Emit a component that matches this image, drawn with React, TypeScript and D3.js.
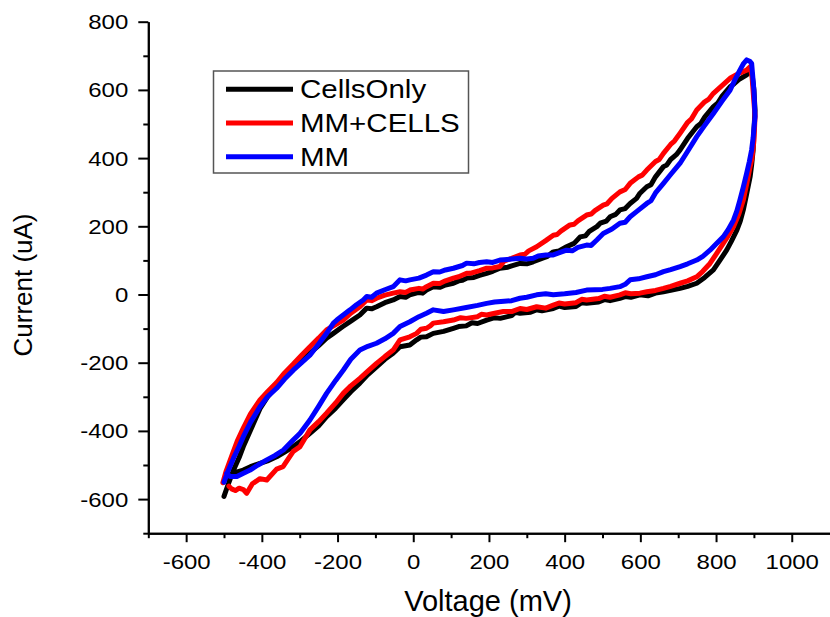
import React, { useEffect, useRef } from 'react';
import * as d3 from 'd3';

// voltage (mV), current (uA)
const cellsOnlyFwd: [number, number][] = [
  [-500, -592], [-490, -560], [-475, -515], [-460, -478], [-449, -446], [-430, -398],
  [-405, -335], [-385, -300], [-361, -268], [-340, -244], [-318, -220], [-295, -195],
  [-273, -172], [-250, -150], [-229, -128], [-211, -114], [-186, -94], [-165, -78],
  [-141, -60], [-123, -40], [-110, -42], [-97, -36], [-75, -24], [-53, -16], [-35, -6],
  [-20, -8], [-9, -1], [15, 6], [25, 4], [35, 13], [53, 23], [70, 21], [85, 28],
  [106, 33], [120, 40], [130, 42], [141, 48], [160, 50], [175, 56], [194, 62],
  [210, 68], [229, 77], [250, 80], [260, 84], [282, 91], [300, 90], [317, 96],
  [340, 106], [353, 111], [370, 125], [385, 128], [405, 140], [425, 150], [441, 169],
  [455, 172], [465, 185], [485, 199], [494, 209], [510, 215], [520, 228], [535, 235],
  [546, 248], [560, 252], [573, 267], [590, 282], [599, 297], [617, 316], [628, 322],
  [640, 345], [661, 375], [670, 380], [680, 396], [695, 410], [705, 424], [725, 458],
  [749, 492], [760, 502], [770, 520], [793, 551], [805, 562], [815, 580], [837, 609],
  [848, 618], [860, 630], [881, 644], [888, 655], [895, 648],
];
const cellsOnlyRev: [number, number][] = [
  [900, 600], [903, 541], [900, 480], [898, 424], [894, 380], [890, 345], [880, 290],
  [872, 248], [864, 215], [855, 189], [840, 155], [828, 130], [810, 100], [793, 72],
  [770, 50], [749, 33], [725, 24], [705, 18], [680, 12], [661, 8], [640, 4], [620, -4],
  [599, -1], [575, -8], [560, -6], [546, -11], [520, -18], [505, -15], [490, -22],
  [458, -26], [445, -24], [430, -35], [400, -38], [385, -34], [370, -41], [340, -48],
  [325, -45], [310, -52], [282, -55], [270, -52], [260, -62], [230, -70], [215, -68],
  [194, -75], [170, -85], [155, -83], [140, -92], [120, -94], [106, -99], [80, -108],
  [53, -114], [35, -124], [20, -125], [9, -133], [-9, -148], [-35, -153], [-53, -172],
  [-75, -190], [-97, -212], [-120, -235], [-141, -260], [-165, -285], [-185, -309],
  [-205, -333], [-229, -358], [-250, -385], [-273, -407], [-295, -428], [-317, -446],
  [-340, -462], [-361, -476], [-385, -488], [-405, -495], [-430, -505], [-449, -515],
  [-465, -520], [-475, -524], [-485, -535], [-495, -540],
];

const mmCellsFwd: [number, number][] = [
  [-503, -552], [-495, -520], [-480, -475], [-465, -430], [-449, -392], [-430, -350],
  [-405, -309], [-385, -285], [-361, -258], [-340, -230], [-317, -204], [-295, -178],
  [-273, -153], [-250, -128], [-229, -104], [-205, -88], [-185, -75], [-165, -55],
  [-141, -36], [-123, -16], [-110, -18], [-97, -11], [-75, -2], [-53, 4], [-35, 8],
  [-20, 6], [-9, 13], [15, 18], [25, 16], [35, 23], [53, 33], [70, 32], [85, 40],
  [106, 48], [120, 52], [141, 62], [150, 62], [175, 70], [194, 77], [210, 78],
  [229, 82], [240, 98], [260, 106], [282, 116], [295, 118], [305, 128], [326, 140],
  [350, 158], [370, 174], [380, 176], [390, 186], [414, 204], [425, 206], [435, 216],
  [458, 233], [470, 236], [480, 246], [502, 262], [512, 266], [525, 282], [546, 301],
  [560, 308], [573, 326], [595, 345], [605, 350], [617, 365], [640, 390], [650, 396],
  [661, 414], [680, 440], [690, 450], [705, 473], [725, 505], [735, 515], [749, 541],
  [770, 565], [780, 572], [793, 590], [815, 612], [837, 634], [860, 648], [881, 658],
  [890, 668], [895, 640],
];
const mmCellsRev: [number, number][] = [
  [903, 522], [900, 450], [895, 400], [890, 375], [882, 330], [872, 277], [860, 235],
  [846, 199], [832, 172], [819, 150], [800, 118], [784, 91], [765, 68], [749, 52],
  [725, 40], [705, 33], [680, 24], [661, 18], [640, 12], [617, 8], [599, 4], [575, 2],
  [560, 5], [546, -1], [520, -8], [505, -5], [490, -12], [458, -16], [445, -14],
  [430, -24], [400, -28], [385, -25], [370, -31], [350, -40], [326, -36], [300, -44],
  [282, -41], [260, -50], [238, -50], [215, -55], [194, -60], [180, -58], [170, -65],
  [140, -70], [125, -68], [106, -75], [80, -80], [53, -84], [45, -92], [35, -99],
  [20, -102], [9, -114], [-9, -124], [-35, -133], [-53, -163], [-75, -182], [-97, -202],
  [-120, -225], [-141, -246], [-165, -268], [-185, -290], [-205, -318], [-229, -348],
  [-250, -373], [-273, -397], [-299, -446], [-317, -460], [-344, -505], [-361, -512],
  [-387, -544], [-405, -540], [-425, -555], [-440, -583], [-449, -572], [-460, -568],
  [-470, -575], [-480, -570], [-487, -562],
];

const mmFwd: [number, number][] = [
  [-500, -550], [-490, -520], [-475, -480], [-460, -445], [-449, -417], [-430, -375],
  [-405, -329], [-385, -300], [-361, -275], [-340, -248], [-317, -222], [-295, -200],
  [-273, -178], [-250, -145], [-229, -114], [-211, -84], [-202, -75], [-185, -60],
  [-167, -45], [-150, -30], [-132, -16], [-123, -6], [-110, -8], [-97, 4], [-75, 14],
  [-53, 23], [-35, 43], [-20, 40], [-9, 43], [15, 48], [35, 57], [53, 67], [70, 66],
  [85, 72], [106, 77], [130, 85], [141, 92], [160, 90], [175, 94], [194, 96],
  [210, 94], [229, 101], [240, 102], [260, 104], [282, 106], [300, 104], [317, 106],
  [330, 113], [350, 116], [370, 116], [390, 124], [405, 130], [420, 128], [435, 138],
  [458, 145], [470, 144], [485, 160], [502, 179], [525, 192], [546, 209], [560, 212],
  [573, 228], [590, 243], [617, 267], [628, 275], [640, 298], [661, 326], [680, 352],
  [705, 385], [725, 420], [749, 463], [770, 496], [793, 531], [815, 566], [837, 599],
  [850, 630], [863, 658], [873, 678], [881, 688], [890, 683], [894, 678],
];
const mmRev: [number, number][] = [
  [900, 600], [903, 522], [898, 460], [894, 424], [888, 390], [881, 356], [872, 315],
  [863, 277], [855, 245], [846, 218], [832, 190], [819, 169], [800, 148], [784, 130],
  [765, 112], [749, 101], [725, 90], [705, 82], [680, 73], [661, 67], [640, 58],
  [617, 52], [595, 46], [573, 43], [560, 30], [546, 23], [520, 18], [500, 15],
  [480, 14], [458, 13], [430, 6], [400, 2], [370, -1], [350, 2], [326, -1], [300, -8],
  [282, -11], [260, -18], [240, -20], [215, -22], [194, -26], [170, -32], [140, -38],
  [106, -45], [80, -50], [53, -45], [35, -55], [15, -65], [-9, -80], [-35, -94],
  [-53, -114], [-75, -130], [-97, -143], [-120, -152], [-141, -163], [-165, -190],
  [-185, -222], [-205, -252], [-229, -290], [-250, -328], [-273, -368], [-299, -407],
  [-320, -430], [-343, -456], [-365, -472], [-387, -485], [-410, -500], [-431, -515],
  [-450, -525], [-466, -534], [-484, -534], [-493, -524],
];

const seriesNames = ['CellsOnly', 'MM+CELLS', 'MM'];
const seriesColors = ['#000000', '#ff0000', '#0000ff'];
const seriesData = [
  [...cellsOnlyFwd, ...cellsOnlyRev],
  [...mmCellsFwd, ...mmCellsRev],
  [...mmFwd, ...mmRev],
];

const xMajorTicks = [-600, -400, -200, 0, 200, 400, 600, 800, 1000];
const xMinorTicks = [-700, -500, -300, -100, 100, 300, 500, 700, 900];
const yMajorTicks = [-600, -400, -200, 0, 200, 400, 600, 800];
const yMinorTicks = [-700, -500, -300, -100, 100, 300, 500, 700];

const FONT = '"Liberation Sans", Arial, sans-serif';

const App = () => {
  const svgRef = useRef<SVGSVGElement>(null);
  const width = 830;
  const height = 617;

  useEffect(() => {
    const svg = d3.select(svgRef.current);
    svg.selectAll('*').remove();

    const x = d3.scaleLinear().domain([-700, 1100]).range([148.3, 829.6]);
    const y = d3.scaleLinear().domain([-700, 800]).range([533.2, 21.7]);

    // curves
    const line = d3.line<[number, number]>()
      .x(d => x(d[0]))
      .y(d => y(d[1]));

    seriesData.forEach((pts, i) => {
      svg.append('path')
        .datum(pts)
        .attr('d', line)
        .attr('fill', 'none')
        .attr('stroke', seriesColors[i])
        .attr('stroke-width', 5)
        .attr('stroke-linejoin', 'round')
        .attr('stroke-linecap', 'round');
    });

    const styleAxis = (g: any) => {
      g.select('.domain').attr('stroke', '#000').attr('stroke-width', 2);
      g.selectAll('.tick line').attr('stroke', '#000').attr('stroke-width', 2);
    };
    const plain = (d: any) => String(d);

    // y axis
    const yMinor = svg.append('g')
      .attr('transform', `translate(${x(-700)},0)`)
      .call(d3.axisLeft(y).tickValues(yMinorTicks).tickSize(5).tickSizeOuter(0).tickFormat(() => ''));
    styleAxis(yMinor);
    const yAxis = svg.append('g')
      .attr('transform', `translate(${x(-700)},0)`)
      .call(d3.axisLeft(y).tickValues(yMajorTicks).tickSize(10).tickSizeOuter(0).tickFormat(plain));
    styleAxis(yAxis);
    yAxis.selectAll('text')
      .attr('x', -20 / 1.2)
      .attr('dy', '0.35em')
      .attr('transform', 'scale(1.2,1)')
      .style('font-family', FONT)
      .style('font-size', '20px')
      .style('fill', '#000');

    // x axis
    const xMinor = svg.append('g')
      .attr('transform', `translate(0,${y(-700)})`)
      .call(d3.axisBottom(x).tickValues(xMinorTicks).tickSize(5).tickSizeOuter(0).tickFormat(() => ''));
    styleAxis(xMinor);
    const xAxis = svg.append('g')
      .attr('transform', `translate(0,${y(-700)})`)
      .call(d3.axisBottom(x).tickValues(xMajorTicks).tickSize(9).tickSizeOuter(0).tickFormat(plain));
    styleAxis(xAxis);
    xAxis.selectAll('text')
      .attr('y', 36)
      .attr('dy', 0)
      .attr('transform', 'scale(1.2,1)')
      .style('font-family', FONT)
      .style('font-size', '20px')
      .style('fill', '#000');

    // axis titles
    svg.append('text')
      .attr('transform', 'translate(32,285) rotate(-90)')
      .attr('text-anchor', 'middle')
      .style('font-family', FONT)
      .style('font-size', '26px')
      .text('Current (uA)');

    svg.append('text')
      .attr('x', 488)
      .attr('y', 611)
      .attr('text-anchor', 'middle')
      .style('font-family', FONT)
      .style('font-size', '29px')
      .text('Voltage (mV)');

    // legend
    const legend = svg.append('g');
    legend.append('rect')
      .attr('x', 213.5)
      .attr('y', 71)
      .attr('width', 255)
      .attr('height', 102)
      .attr('fill', '#fff')
      .attr('stroke', '#555')
      .attr('stroke-width', 1.5);

    seriesNames.forEach((name, i) => {
      const ly = 89.3 + i * 33.7;
      legend.append('line')
        .attr('x1', 226)
        .attr('x2', 293)
        .attr('y1', ly)
        .attr('y2', ly)
        .attr('stroke', seriesColors[i])
        .attr('stroke-width', 5);
      legend.append('text')
        .attr('transform', `translate(300,${ly + 9}) scale(1.18,1)`)
        .style('font-family', FONT)
        .style('font-size', '25px')
        .text(name);
    });
  }, []);

  return (
    <svg
      ref={svgRef}
      width={width}
      height={height}
      style={{ position: 'absolute', left: 0, top: 0, background: '#fff' }}
    />
  );
};

export default App;
